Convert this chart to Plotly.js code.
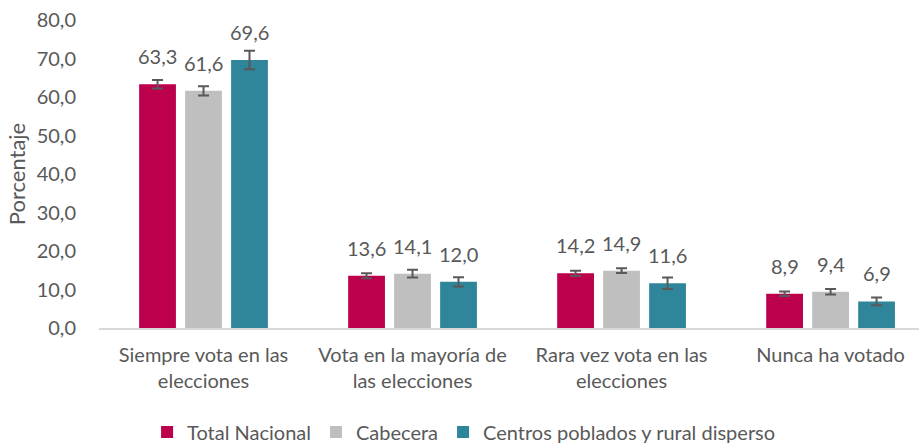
<!DOCTYPE html>
<html>
<head>
<meta charset="utf-8">
<script src="https://cdn.plot.ly/plotly-3.0.1.min.js"></script>
<style>html,body{margin:0;padding:0;background:#fff}#chart{width:919px;height:443px}</style>
</head>
<body>
<div id="chart"></div>
<script>
const categories = ["Siempre vota en las<br>elecciones", "Vota en la mayoría de<br>las elecciones", "Rara vez vota en las<br>elecciones", "Nunca ha votado"];
const seriesNames = ["Total Nacional", "Cabecera", "Centros poblados y rural disperso"];
const totalNacional = [63.3, 13.6, 14.2, 8.9];
const cabecera = [61.6, 14.1, 14.9, 9.4];
const centrosPoblados = [69.6, 12.0, 11.6, 6.9];
const errTotal = [1.1, 0.65, 0.7, 0.6];
const errCabecera = [1.2, 1.0, 0.6, 0.7];
const errCentros = [2.4, 1.2, 1.5, 1.0];
const yTickVals = [0, 10, 20, 30, 40, 50, 60, 70, 80];

const colors = ["#bc004b", "#bfbfbf", "#2f8599"];
const values = [totalNacional, cabecera, centrosPoblados];
const errs = [errTotal, errCabecera, errCentros];
const FONT = "Lato, 'Open Sans', sans-serif";
const TXT = "#595959";
const bargap = 0.34;
const slot = (1 - bargap) / 3;
const idx = categories.map((c, i) => i);

const fmt = v => v.toFixed(1).replace('.', ',');

const traces = values.map((vals, s) => ({
  type: 'bar',
  name: seriesNames[s],
  x: idx,
  y: vals,
  marker: {color: colors[s]},
  error_y: {type: 'data', array: errs[s], visible: true, color: '#595959', thickness: 2, width: 5.5},
  hoverinfo: 'y'
}));

const annotations = [];
values.forEach((vals, s) => {
  vals.forEach((v, i) => {
    annotations.push({
      x: i + (s - 1) * slot, y: v, xref: 'x', yref: 'y',
      text: fmt(v), showarrow: false, yanchor: 'bottom', yshift: 14,
      font: {family: FONT, size: 20, color: TXT}
    });
  });
});

const layout = {
  width: 919, height: 443,
  margin: {l: 99, r: 0, t: 20, b: 115},
  paper_bgcolor: '#fff', plot_bgcolor: '#fff',
  barmode: 'group', bargap: bargap, bargroupgap: 0.2,
  showlegend: true,
  legend: {orientation: 'h', xref: 'container', yref: 'container', x: 0.505, xanchor: 'center', y: 0.025, yanchor: 'middle',
    font: {family: FONT, size: 20, color: TXT}, traceorder: 'normal'},
  xaxis: {
    range: [-0.5, 3.423], tickvals: idx, ticktext: categories,
    showline: true, linecolor: '#d9d9d9', linewidth: 1.5, showgrid: false, zeroline: false,
    ticks: 'outside', ticklen: 8, tickcolor: 'rgba(0,0,0,0)',
    tickfont: {family: FONT, size: 20, color: TXT}
  },
  yaxis: {
    range: [0, 80], tickvals: yTickVals, ticktext: yTickVals.map(fmt),
    showline: false, showgrid: false, zeroline: false,
    ticks: 'outside', ticklen: 18, tickcolor: 'rgba(0,0,0,0)',
    tickfont: {family: FONT, size: 20, color: TXT},
    title: {text: 'Porcentaje', font: {family: FONT, size: 22, color: TXT}, standoff: 4}
  },
  annotations: annotations
};

Plotly.newPlot('chart', traces, layout, {displayModeBar: false, responsive: false});
</script>
</body>
</html>
